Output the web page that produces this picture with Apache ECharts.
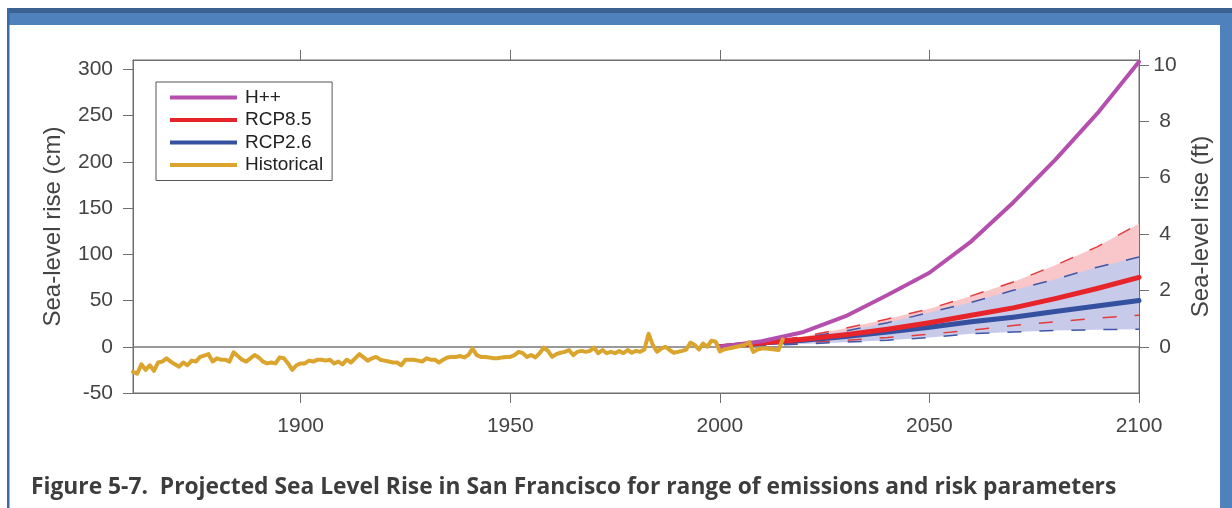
<!DOCTYPE html>
<html><head><meta charset="utf-8">
<script src="https://cdn.jsdelivr.net/npm/echarts@6/dist/echarts.min.js"></script>
<style>html,body{margin:0;padding:0;background:#fff}#c{width:1232px;height:508px}</style>
</head><body><div id="c"></div>
<script>
// ---- data ----
const histStartYear = 1860;
const histValues = [
 -27,-29,-19,-25,-20,-26,-17,-16,-12.5,-16,
 -19,-21.5,-17,-20,-15,-16,-11,-9.5,-8,-16,
 -12.5,-14,-14,-16,-6,-10,-14,-16,-12.5,-9,
 -11.5,-16,-18,-17,-18,-11.5,-12.5,-18,-25,-20,
 -18,-18,-15,-16,-14,-14,-15,-14,-18,-16,
 -19,-14,-17,-12.5,-8,-11.5,-15,-12.5,-11,-14,
 -15,-16,-17,-17,-20,-14,-14,-14,-15,-16,
 -12.5,-14,-14,-17,-14,-11.5,-11,-11,-10,-11.5,
 -9,-2,-9,-11,-11,-11.5,-12.5,-12.5,-11.5,-11,
 -11,-9,-5.5,-7,-11,-9,-11.5,-7,-1,-4.5,
 -11,-8,-6.5,-5.5,-3.5,-9,-5.5,-4.5,-5.5,-4.5,
 -1,-7,-3.5,-7,-5.5,-7,-4.5,-7,-3.5,-6.5,
 -4.5,-5.5,-3,14,2,-5.5,-2,0,-3.5,-6.5,
 -5.5,-4.5,-3,4.5,2,-3,3.5,0,6.5,5.5,
 -5,-3,-2,-1,0,1,2,5,-5.5,-3,
 -2,-2,-2.5,-3,-3.5,8
];
const projYears = [2000,2010,2020,2030,2040,2050,2060,2070,2080,2090,2100];
const hppValues    = [0, 6, 16, 33, 56, 80, 114, 156, 202, 252, 308];
const rcp85Median  = [0, 4, 8, 13, 19, 26, 34, 42, 52, 63, 75];
const rcp85Upper   = [0, 5, 11, 20, 30, 41, 55, 70, 88, 108, 133];
const rcp85Lower   = [0, 2, 4.5, 7, 10, 13.5, 18, 23, 27, 31, 34];
const rcp26Median  = [0, 4, 7, 11, 16, 21, 27, 32, 38, 44, 50];
const rcp26Upper   = [0, 5, 10, 17, 26, 37, 48, 61, 73, 86, 97];
const rcp26Lower   = [0, 1.5, 3, 5, 7, 10, 14, 16, 17.5, 18.5, 19];
const xTickValues  = [1900, 1950, 2000, 2050, 2100];
const yTickCm      = [-50, 0, 50, 100, 150, 200, 250, 300];
const yTickFt      = [0, 2, 4, 6, 8, 10];
const legendNames  = ['H++', 'RCP8.5', 'RCP2.6', 'Historical'];
const titleText    = 'Figure 5-7.  Projected Sea Level Rise in San Francisco for range of emissions and risk parameters';
const yNameCm = 'Sea-level rise (cm)';
const yNameFt = 'Sea-level rise (ft)';

// ---- build ----
const X_MIN = 1860, X_MAX = 2100, Y_MIN = -50, Y_MAX = 310, CM_PER_FT = 30.48;
const pairs = (xs, ys) => xs.map((x, i) => [x, ys[i]]);
const histData = histValues.map((v, i) => [histStartYear + i, v]);
const FONT = 'Liberation Sans';
const AX = '#6f6f6f', TXT = '#444';
const plain = v => String(v);

const C = { hpp:'#b54fae', r85:'#e8242b', r26:'#34509f', hist:'#dba42c',
  pink:'#f9c7c9', lav:'#c7cae8', r85d:'#e53a3a', r26d:'#3f56a6' };

function band(name, ys, color, z, extra) {
  return Object.assign({ name, type:'line', data: pairs(projYears, ys), symbol:'none', showSymbol:false,
    lineStyle:{width:0, opacity:0}, areaStyle:{color, opacity:1, origin:'auto'}, z, silent:true }, extra || {});
}
function dashed(name, ys, color) {
  return { name, type:'line', data: pairs(projYears, ys), symbol:'none', showSymbol:false,
    lineStyle:{color, width:1.5, type:[14,18]}, z:2, silent:true };
}
function solid(name, data, color, width, z) {
  return { name, type:'line', data, symbol:'none', showSymbol:false, color,
    itemStyle:{color}, lineStyle:{color, width, cap:'round', join:'round'}, z };
}

const chart = echarts.init(document.getElementById('c'), null, {renderer:'canvas'});
chart.setOption({
  animation:false,
  backgroundColor:'#fff',
  grid:{ left:133, right:93, top:60, bottom:115, show:true, borderColor:AX, borderWidth:1, backgroundColor:'transparent' },
  legend:{ data:legendNames, orient:'vertical', left:156, top:82, icon:'rect', itemWidth:67, itemHeight:4,
    itemGap:3.5, padding:[6,9,6,14], backgroundColor:'#fff', borderColor:'#555', borderWidth:1,
    textStyle:{fontFamily:FONT, fontSize:19, color:'#222', padding:[0,0,0,3]}, selectedMode:false },
  xAxis:[
    { type:'value', position:'bottom', min:X_MIN, max:X_MAX,
      axisLine:{show:true, onZero:false, lineStyle:{color:AX, width:1}},
      axisTick:{show:true, inside:false, length:10, customValues:xTickValues, lineStyle:{color:AX}},
      axisLabel:{customValues:xTickValues, formatter:plain, margin:23, fontFamily:FONT, fontSize:21, color:TXT},
      splitLine:{show:false} },
    { type:'value', position:'top', min:X_MIN, max:X_MAX,
      axisLine:{show:true, onZero:false, lineStyle:{color:AX, width:1}},
      axisTick:{show:true, inside:false, length:10, customValues:xTickValues, lineStyle:{color:AX}},
      axisLabel:{show:false}, splitLine:{show:false} }
  ],
  yAxis:[
    { type:'value', position:'left', min:Y_MIN, max:Y_MAX,
      name:yNameCm, nameLocation:'middle', nameGap:68,
      nameTextStyle:{fontFamily:FONT, fontSize:24, color:TXT},
      axisLine:{show:true, onZero:false, lineStyle:{color:AX, width:1}},
      axisTick:{show:true, inside:false, length:10, customValues:yTickCm, lineStyle:{color:AX}},
      axisLabel:{customValues:yTickCm, formatter:plain, margin:20, fontFamily:FONT, fontSize:21, color:TXT},
      splitLine:{show:false} },
    { type:'value', position:'right', min:Y_MIN / CM_PER_FT, max:Y_MAX / CM_PER_FT,
      name:yNameFt, nameLocation:'middle', nameGap:50,
      nameTextStyle:{fontFamily:FONT, fontSize:24, color:TXT},
      axisLine:{show:true, onZero:false, lineStyle:{color:AX, width:1}},
      axisTick:{show:true, inside:false, length:10, customValues:yTickFt, lineStyle:{color:AX}},
      axisLabel:{customValues:yTickFt, formatter:plain, margin:26, align:'center', fontFamily:FONT, fontSize:21, color:TXT},
      splitLine:{show:false} }
  ],
  series:[
    band('band85', rcp85Upper, C.pink, 1),
    band('band26', rcp26Upper, C.lav, 1.2),
    band('bandMask', rcp26Lower, '#ffffff', 1.4, {
      markLine:{ silent:true, symbol:['none','none'], z:1.6, label:{show:false}, animation:false,
        lineStyle:{color:'#777', width:1.5, type:'solid'}, data:[{yAxis:0}] } }),
    dashed('r85hi', rcp85Upper, C.r85d),
    dashed('r26hi', rcp26Upper, C.r26d),
    dashed('r85lo', rcp85Lower, C.r85d),
    dashed('r26lo', rcp26Lower, C.r26d),
    solid('RCP2.6', pairs(projYears, rcp26Median), C.r26, 5, 3),
    solid('RCP8.5', pairs(projYears, rcp85Median), C.r85, 5, 3.2),
    solid('H++', pairs(projYears, hppValues), C.hpp, 4, 4),
    solid('Historical', histData, C.hist, 4, 5)
  ],
  graphic:[
    { type:'rect', shape:{x:7, y:8, width:1225, height:5}, style:{fill:'#3b6193'}, silent:true },
    { type:'rect', shape:{x:7, y:13, width:1225, height:12}, style:{fill:'#4f81bd'}, silent:true },
    { type:'rect', shape:{x:7, y:8, width:2.5, height:500}, style:{fill:'#3c69a8'}, silent:true },
    { type:'rect', shape:{x:1220, y:25, width:12, height:483}, style:{fill:'#4f81bd'}, silent:true },
    { type:'text', left:31, top:476, style:{ text:titleText, fill:'#3d3d3d',
        font:'bold 22.8px "Open Sans"' }, silent:true }
  ]
});
</script></body></html>
